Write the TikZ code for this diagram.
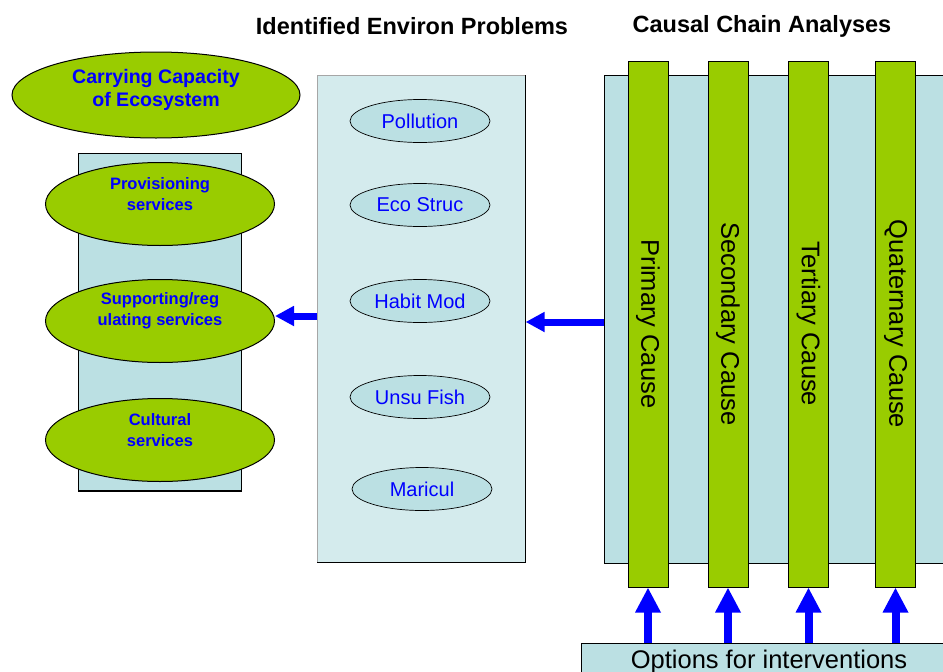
\documentclass[tikz,border=0pt]{standalone}
\usepackage{fontspec}
\setmainfont{Liberation Sans}
\usetikzlibrary{shapes.geometric,arrows.meta}
\definecolor{leaf}{HTML}{99CC00}
\definecolor{paleblue}{HTML}{BBE0E3}
\definecolor{paleblue2}{HTML}{D4EBED}
\definecolor{inkblue}{HTML}{0000FF}
\tikzset{
  bigoval/.style={ellipse, draw=black, line width=1pt, fill=leaf, minimum width=229pt, minimum height=83pt, inner sep=0pt},
  ovaltext/.style={text=inkblue, font=\bfseries\fontsize{16.5}{20.5}\selectfont, align=center},
  problem/.style={ellipse, draw=black, line width=0.7pt, fill=paleblue, minimum width=140pt, minimum height=43pt, inner sep=0pt, text=inkblue, font=\fontsize{20}{22}\selectfont},
  causebar/.style={rectangle, draw=black, line width=1pt, fill=leaf, minimum width=40pt, minimum height=526pt, inner sep=0pt, font=\fontsize{25.5}{28}\selectfont},
  heading/.style={font=\fontsize{23.5}{26}\selectfont\bfseries},
  bluearrow/.style={draw=inkblue, line width=7pt, -{Triangle[length=19pt, width=19pt]}},
  uparrow/.style={draw=inkblue, line width=8pt, -{Triangle[length=25pt, width=24pt]}},
}
\begin{document}
\begin{tikzpicture}[x=1pt, y=-1pt]
\useasboundingbox (0,0) rectangle (943,672);
\begin{scope}
\clip (0,0) rectangle (943,672);

% headings
\node[heading] (h1) at (412,26.5) {Identified Environ Problems};
\node[heading] (h2) at (762,26.5) {Causal Chain Analyses};

% ecosystem services column
\node[ellipse, draw=black, line width=1pt, fill=leaf, minimum width=288pt, minimum height=86pt, inner sep=0pt] (cap) at (156,95) {};
\node[text=inkblue, font=\bfseries\fontsize{19.6}{23}\selectfont, align=center] (captext) at (156,89.5) {Carrying Capacity\\of Ecosystem};
\path[fill=paleblue, draw=black, line width=1pt] (78,153) rectangle (241,491);
\draw[black, line width=2pt] (78,491) -- (241,491);
\node[bigoval] (prov) at (160,204) {};
\node[ovaltext] (provt) at (160,194) {Provisioning\\services};
\node[bigoval] (supp) at (160,321) {};
\node[ovaltext] (suppt) at (160,311) {Supporting/reg\\ulating services};
\node[bigoval] (cult) at (160,440) {};
\node[ovaltext] (cultt) at (160,430) {Cultural\\services};

% environmental problems panel
\node[rectangle, fill=paleblue2, draw=gray!70, line width=0.6pt, minimum width=208pt, minimum height=487pt, inner sep=0pt, anchor=north west] (mid) at (317,75) {};
\draw[black, line width=1.5pt] (mid.north east) -- (mid.south east) -- (mid.south west);
\node[problem] (pol) at (420,121) {Pollution};
\node[problem] (eco) at (420,205) {Eco Struc};
\node[problem] (hab) at (420,301) {Habit Mod};
\node[problem] (fish) at (420,397) {Unsu Fish};
\node[problem] (mar) at (422,489) {Maricul};

% causal chain panel
\node[rectangle, fill=paleblue, draw=black, line width=1pt, minimum width=345pt, minimum height=488pt, inner sep=0pt, anchor=north west] (ccp) at (604,75) {};
\node[causebar] (b1) at (648,324) {\rotatebox{-90}{Primary Cause}};
\node[causebar] (b2) at (728,324) {\rotatebox{-90}{Secondary Cause}};
\node[causebar] (b3) at (808.5,324) {\rotatebox{-90}{Tertiary Cause}};
\node[causebar] (b4) at (895.5,324) {\rotatebox{-90}{Quaternary Cause}};

% interventions box
\node[rectangle, fill=paleblue, draw=black, line width=1pt, minimum width=380pt, minimum height=40pt, inner sep=0pt, anchor=north west] (opt) at (581,643) {};
\node[font=\fontsize{25.5}{28}\selectfont, anchor=base] (optt) at (769,668) {Options for interventions};

% flow arrows
\draw[bluearrow] (mid.west |- 0,316) -- (supp.east |- 0,316);
\draw[bluearrow] (ccp.west |- 0,322) -- (mid.east |- 0,322);
\foreach \b in {b1,b2,b3,b4}
  \draw[uparrow] (opt.north -| \b) -- (\b.south);
\end{scope}
\end{tikzpicture}
\end{document}
